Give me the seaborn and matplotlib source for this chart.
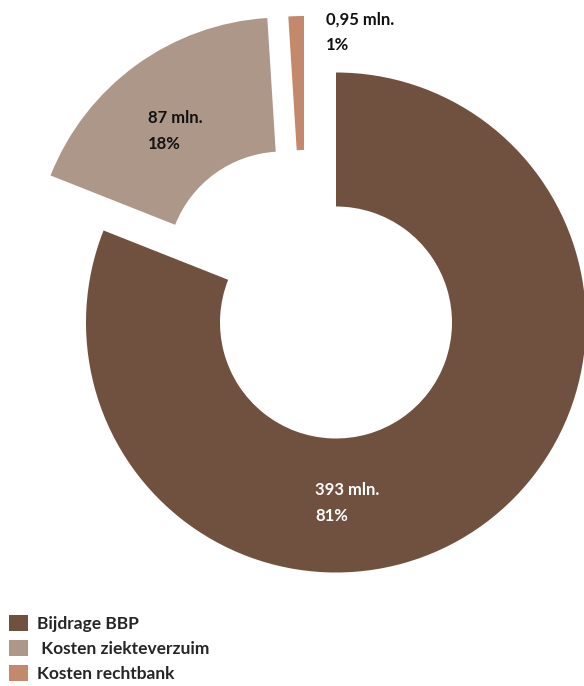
import matplotlib
matplotlib.use('Agg')
import matplotlib.pyplot as plt
import seaborn as sns

categories = ['Bijdrage BBP', ' Kosten ziekteverzuim', 'Kosten rechtbank']
shares = [81, 18, 1]
amounts = ['393 mln.', '87 mln.', '0,95 mln.']
share_labels = ['81%', '18%', '1%']

colors = ['#70503e', '#ad9788', '#c4896c']
# per-slice pull-out, as a fraction of the radius
offsets = [(0, 0), (-0.212, 0.22), (-0.128, 0.226)]

sns.set_style('white')
plt.rcParams['font.family'] = ['Lato', 'DejaVu Sans']

fig = plt.figure(figsize=(5.84, 6.86), dpi=100)
ax = fig.add_axes([0, 0, 1, 1])

wedges, _ = ax.pie(shares, colors=colors, startangle=90, counterclock=False,
                   radius=1, wedgeprops={'width': 0.536, 'linewidth': 0})
for w, (dx, dy) in zip(wedges, offsets):
    w.set_center((dx, dy))

ax.set_xlim(-1.344, 0.992)
ax.set_ylim(-1.454, 1.29)
ax.set_aspect('equal')
ax.axis('off')

label_pos = [(-0.084, -0.722), (-0.752, 0.766), (-0.04, 1.162)]
text_colors = ['white', '#111111', '#111111']
for (x, y), a, s, c in zip(label_pos, amounts, share_labels, text_colors):
    ax.text(x, y, a + '\n' + s, ha='left', va='center', color=c,
            fontsize=12, fontweight='bold', linespacing=1.7)

fig.legend(wedges, categories, loc='lower left', bbox_to_anchor=(9 / 584, 4 / 686),
           frameon=False, handlelength=1.1, handleheight=1.1,
           handletextpad=0.5, labelspacing=0.45, borderpad=0, borderaxespad=0,
           prop={'weight': 'bold', 'size': 12.5})

fig.savefig('out.png', dpi=100)
